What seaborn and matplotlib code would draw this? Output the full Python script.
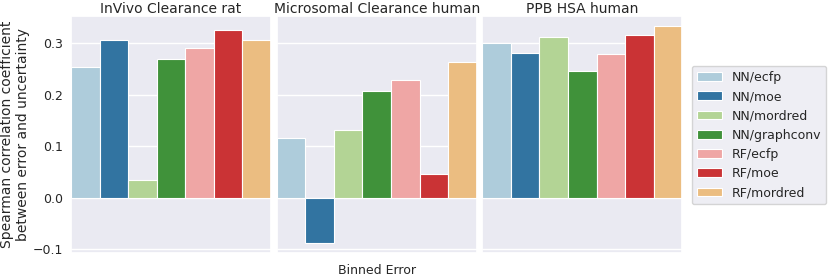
import matplotlib
matplotlib.use("Agg")
import matplotlib.pyplot as plt
import seaborn as sns
import pandas as pd

datasets = ["InVivo Clearance rat", "Microsomal Clearance human", "PPB HSA human"]
models = ["NN/ecfp", "NN/moe", "NN/mordred", "NN/graphconv", "RF/ecfp", "RF/moe", "RF/mordred"]
invivo = [0.253, 0.305, 0.035, 0.269, 0.290, 0.325, 0.306]
microsomal = [0.115, -0.087, 0.132, 0.207, 0.229, 0.046, 0.263]
ppb = [0.301, 0.280, 0.311, 0.246, 0.279, 0.316, 0.333]
yticks = [-0.1, 0.0, 0.1, 0.2, 0.3]

rows = []
for ds, vals in zip(datasets, [invivo, microsomal, ppb]):
    for m, v in zip(models, vals):
        rows.append({"dataset": ds, "model": m, "bin": "all", "rho": v})
df = pd.DataFrame(rows)

sns.set_theme(style="darkgrid")
plt.rcParams["font.family"] = ["DejaVu Sans"]
palette = sns.color_palette("Paired", 7)

fig = plt.figure(figsize=(8.3, 2.78), dpi=100)
W, H = 830, 278
lefts = [71, 276.7, 482.3]
width = 200
bottom_px, top_px = 253, 15.7
axes = []
for i, (ds, l) in enumerate(zip(datasets, lefts)):
    ax = fig.add_axes([l / W, 1 - bottom_px / H, width / W, (bottom_px - top_px) / H],
                      sharey=axes[0] if axes else None)
    sub = df[df["dataset"] == ds]
    sns.barplot(data=sub, x="bin", y="rho", hue="model", hue_order=models,
                palette=palette, ax=ax, edgecolor="white", linewidth=0.8,
                legend=(i == 0))
    ax.set_xlim(-0.4, 0.4)
    ax.set_ylim(-0.107, 0.353)
    ax.set_xticks([])
    ax.set_title(ds, fontsize=10, pad=2)
    ax.set_xlabel("")
    ax.set_ylabel("")
    ax.tick_params(axis="y", labelsize=9, pad=5.8, length=0)
    if i > 0:
        ax.tick_params(axis="y", labelleft=False)
    axes.append(ax)

axes[0].set_yticks(yticks)
axes[0].set_ylabel("Spearman correlation coefficient\nbetween error and uncertainty", fontsize=10, labelpad=2)
axes[1].set_xlabel("Binned Error", fontsize=9, labelpad=8)

handles, labels = axes[0].get_legend_handles_labels()
axes[0].get_legend().remove()
fig.legend(handles, labels, loc="center left", bbox_to_anchor=(691.5 / W, 1 - 135 / H),
           fontsize=9, frameon=True, borderaxespad=0)

fig.savefig("out.png", dpi=100)
